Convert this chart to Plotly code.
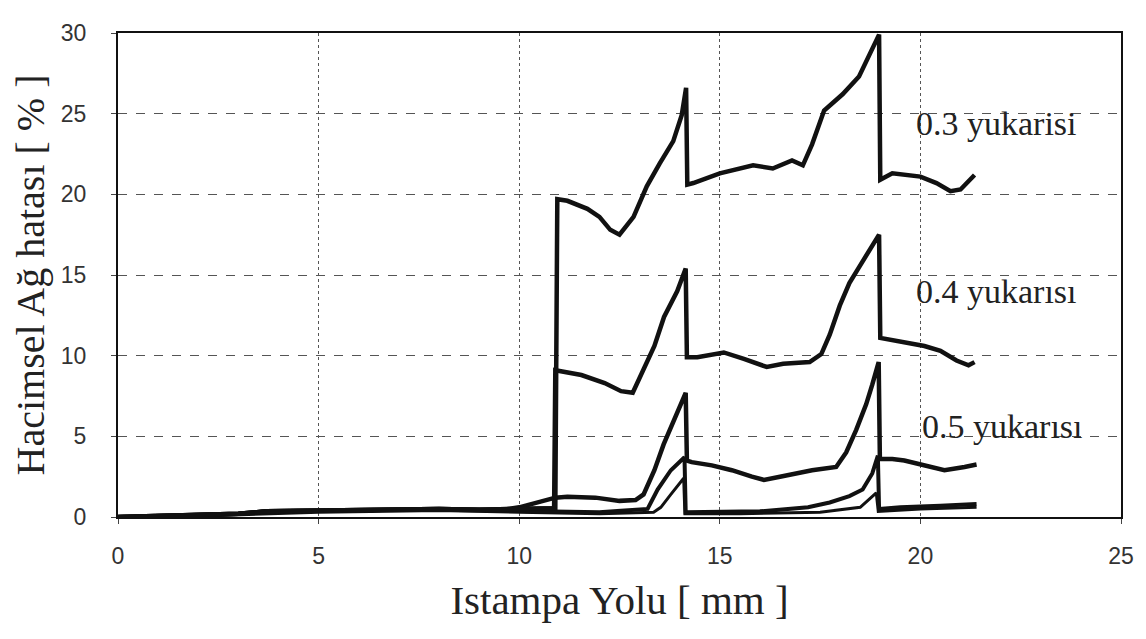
import plotly.graph_objects as go

# ---- data ----
x_03 = [0, 1, 2, 3, 3.7, 5, 6, 7, 8, 9, 10, 10.9, 10.95, 11.2, 11.7, 12.0, 12.27, 12.5, 12.85,
        13.18, 13.5, 13.84, 14.05, 14.16, 14.19, 14.34, 15.0, 15.83, 16.32, 16.8, 17.07, 17.3,
        17.6, 18.06, 18.47, 18.97, 19.0, 19.3, 20.0, 20.4, 20.75, 21.0, 21.35]
y_03 = [0, 0.05, 0.1, 0.2, 0.35, 0.4, 0.45, 0.5, 0.5, 0.45, 0.5, 0.55, 19.7, 19.6, 19.1, 18.6,
        17.8, 17.5, 18.6, 20.5, 21.9, 23.3, 24.9, 26.6, 20.6, 20.7, 21.3, 21.8, 21.6, 22.1,
        21.8, 23.1, 25.2, 26.2, 27.3, 29.9, 20.9, 21.3, 21.1, 20.7, 20.2, 20.3, 21.2]

x_04 = [0, 1, 2, 3, 3.7, 5, 6, 7, 8, 9, 10, 10.87, 10.9, 11.55, 12.13, 12.54, 12.83, 13.12,
        13.37, 13.61, 13.94, 14.15, 14.18, 14.44, 15.1, 15.6, 16.17, 16.58, 17.24, 17.53,
        17.74, 17.99, 18.23, 18.45, 18.7, 18.97, 19.0, 19.5, 20.1, 20.5, 20.9, 21.2, 21.35]
y_04 = [0, 0.05, 0.1, 0.2, 0.35, 0.4, 0.45, 0.5, 0.5, 0.45, 0.5, 0.55, 9.1, 8.8, 8.3, 7.8,
        7.7, 9.2, 10.6, 12.4, 14.0, 15.4, 9.9, 9.9, 10.2, 9.8, 9.3, 9.5, 9.6, 10.1, 11.3,
        13.1, 14.5, 15.4, 16.4, 17.5, 11.1, 10.9, 10.6, 10.3, 9.7, 9.4, 9.6]

x_05 = [0, 1, 2, 3, 3.7, 5, 6, 7, 8, 9, 9.6, 10.0, 10.5, 10.9, 11.2, 11.9, 12.5, 12.9, 13.1,
        13.37, 13.6, 13.9, 14.15, 14.18, 14.3, 14.8, 15.3, 15.8, 16.1, 16.5, 17.3, 17.9, 18.15,
        18.4, 18.65, 18.8, 18.96, 18.99, 19.3, 19.6, 20.1, 20.6, 21.1, 21.4]
y_05 = [0, 0.05, 0.1, 0.2, 0.35, 0.4, 0.45, 0.5, 0.5, 0.45, 0.45, 0.6, 0.9, 1.2, 1.25, 1.2,
        1.0, 1.05, 1.4, 2.9, 4.5, 6.3, 7.7, 3.5, 3.4, 3.2, 2.9, 2.5, 2.3, 2.5, 2.9, 3.1, 4.0,
        5.4, 7.0, 8.2, 9.6, 3.6, 3.6, 3.5, 3.2, 2.9, 3.1, 3.25]

x_06 = [0, 1, 2, 3, 3.7, 5, 6, 7, 8, 9, 10, 11, 12, 13.2, 13.45, 13.78, 14.12, 14.15, 15.0,
        16.0, 17.2, 17.74, 18.23, 18.56, 18.8, 18.94, 18.97, 19.5, 20.5, 21.4]
y_06 = [0, 0.05, 0.1, 0.2, 0.35, 0.4, 0.4, 0.45, 0.45, 0.4, 0.4, 0.3, 0.3, 0.5, 1.7, 2.9, 3.7,
        0.3, 0.3, 0.35, 0.6, 0.9, 1.3, 1.7, 2.7, 3.8, 0.5, 0.6, 0.7, 0.8]

x_07 = [0, 2, 5, 8, 10, 12, 13.35, 13.53, 13.78, 14.1, 14.13, 15.5, 17.5, 18.5, 18.9, 18.95,
        20.0, 21.4]
y_07 = [0, 0.05, 0.3, 0.4, 0.3, 0.2, 0.3, 0.6, 1.4, 2.4, 0.2, 0.2, 0.3, 0.6, 1.5, 0.35, 0.5,
        0.6]

x_ticks = [0, 5, 10, 15, 20, 25]
y_ticks = [0, 5, 10, 15, 20, 25, 30]

labels = ["0.3 yukarisi", "0.4 yukarısı", "0.5 yukarısı"]
label_x = [21.9, 21.9, 22.05]
label_y = [24.4, 14.0, 5.6]

x_title = "Istampa Yolu [ mm ]"
y_title = "Hacimsel Ağ hatası [ % ]"

SERIF = "Liberation Serif, Times New Roman, serif"
SANS = "Liberation Sans, Arial, sans-serif"

fig = go.Figure()
series = [(x_07, y_07, 3), (x_06, y_06, 4), (x_05, y_05, 4.5), (x_04, y_04, 4.5), (x_03, y_03, 4.5)]
for xs, ys, w in series:
    fig.add_trace(go.Scatter(x=xs, y=ys, mode="lines",
                             line=dict(color="#111111", width=w),
                             showlegend=False, hoverinfo="skip"))

for t, lx, ly in zip(labels, label_x, label_y):
    fig.add_annotation(x=lx, y=ly, text=t, showarrow=False,
                       font=dict(family=SERIF, size=34, color="#222222"),
                       xanchor="center", yanchor="middle")

# the page body has an 8px default margin; the figure is sized to compensate
fig.update_layout(
    width=1138, height=631,
    margin=dict(l=110, r=22, t=12, b=122),
    paper_bgcolor="white", plot_bgcolor="white",
    showlegend=False,
    font=dict(family=SANS, color="#333333"),
)
fig.update_xaxes(
    range=[0, 25], tickvals=x_ticks, ticktext=[str(v) for v in x_ticks],
    showgrid=True, gridcolor="#555555", griddash="dot", gridwidth=1,
    showline=True, mirror=True, linecolor="#111111", linewidth=2,
    ticks="outside", ticklen=5, tickcolor="#444444",
    tickfont=dict(family=SANS, size=23, color="#333333"),
    ticklabelstandoff=12, zeroline=False,
    title=dict(text=x_title, font=dict(family=SERIF, size=41, color="#222222"),
               standoff=18),
)
fig.update_yaxes(
    range=[0, 30], tickvals=y_ticks, ticktext=[str(v) for v in y_ticks],
    showgrid=True, gridcolor="#555555", griddash="dash", gridwidth=1,
    showline=True, mirror=True, linecolor="#111111", linewidth=2,
    ticks="outside", ticklen=5, tickcolor="#444444",
    tickfont=dict(family=SANS, size=23, color="#333333"),
    ticklabelstandoff=20, zeroline=False,
    title=dict(text=y_title, font=dict(family=SERIF, size=40, color="#222222"),
               standoff=12),
)

fig.write_html("out.html")
